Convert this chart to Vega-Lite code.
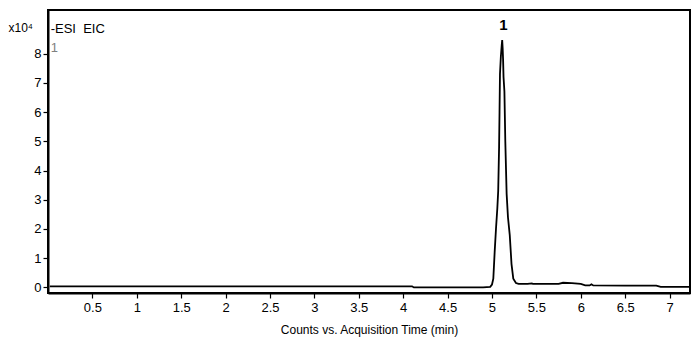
{
  "$schema": "https://vega.github.io/schema/vega-lite/v6.json",
  "width": 642,
  "height": 283,
  "autosize": {"type": "none"},
  "padding": {"left": 48, "top": 10, "right": 10, "bottom": 49},
  "background": "white",
  "config": {
    "view": {"stroke": "black", "strokeWidth": 2},
    "font": "Liberation Sans"
  },
  "datasets": {
    "eic": [
      {"t": 0.02, "c": 0.04}, {"t": 0.5, "c": 0.04}, {"t": 1.0, "c": 0.04}, {"t": 1.5, "c": 0.04},
      {"t": 2.0, "c": 0.04}, {"t": 2.5, "c": 0.04}, {"t": 3.0, "c": 0.04}, {"t": 3.5, "c": 0.04},
      {"t": 4.0, "c": 0.04}, {"t": 4.1, "c": 0.04}, {"t": 4.12, "c": 0.0}, {"t": 4.5, "c": 0.0},
      {"t": 4.9, "c": 0.0}, {"t": 4.98, "c": 0.02}, {"t": 5.0, "c": 0.1}, {"t": 5.015, "c": 0.3},
      {"t": 5.03, "c": 1.2}, {"t": 5.045, "c": 2.0}, {"t": 5.06, "c": 2.7}, {"t": 5.07, "c": 3.3},
      {"t": 5.08, "c": 4.8}, {"t": 5.085, "c": 6.0}, {"t": 5.09, "c": 7.3}, {"t": 5.1, "c": 7.9},
      {"t": 5.11, "c": 8.3}, {"t": 5.115, "c": 8.46}, {"t": 5.12, "c": 8.2}, {"t": 5.125, "c": 7.8},
      {"t": 5.13, "c": 7.2}, {"t": 5.14, "c": 6.7}, {"t": 5.15, "c": 5.0}, {"t": 5.165, "c": 3.2},
      {"t": 5.18, "c": 2.4}, {"t": 5.2, "c": 1.8}, {"t": 5.22, "c": 0.8}, {"t": 5.24, "c": 0.3},
      {"t": 5.27, "c": 0.15}, {"t": 5.3, "c": 0.12}, {"t": 5.4, "c": 0.12}, {"t": 5.45, "c": 0.14},
      {"t": 5.46, "c": 0.12}, {"t": 5.6, "c": 0.12}, {"t": 5.7, "c": 0.12}, {"t": 5.75, "c": 0.12},
      {"t": 5.8, "c": 0.16}, {"t": 5.9, "c": 0.15}, {"t": 6.0, "c": 0.12}, {"t": 6.05, "c": 0.07},
      {"t": 6.1, "c": 0.07}, {"t": 6.12, "c": 0.11}, {"t": 6.14, "c": 0.07}, {"t": 6.5, "c": 0.06},
      {"t": 6.85, "c": 0.06}, {"t": 6.9, "c": 0.02}, {"t": 7.22, "c": 0.02}
    ],
    "notes": [
      {"t": 5.13, "c": 8.98, "label": "1", "kind": "peak"},
      {"t": 0.03, "c": 8.85, "label": "-ESI\u00a0 EIC", "kind": "head"},
      {"t": 0.03, "c": 8.2, "label": "1", "kind": "sub"}
    ]
  },
  "encoding": {
    "x": {
      "field": "t", "type": "quantitative",
      "scale": {"domain": [0, 7.23], "nice": false, "zero": false},
      "axis": {
        "values": [0.5, 1, 1.5, 2, 2.5, 3, 3.5, 4, 4.5, 5, 5.5, 6, 6.5, 7],
        "format": "~g",
        "labelOverlap": false,
        "title": "Counts vs. Acquisition Time (min)",
        "titleFont": "Liberation Sans", "titleFontSize": 12, "titleFontWeight": "normal",
        "titleColor": "black", "titlePadding": 10,
        "labelFont": "Liberation Sans", "labelFontSize": 13, "labelColor": "black",
        "labelPadding": 3, "labelFlush": false,
        "domainColor": "black", "domainWidth": 2,
        "tickColor": "black", "tickSize": 5, "tickWidth": 1.2,
        "grid": false
      }
    },
    "y": {
      "field": "c", "type": "quantitative",
      "scale": {"domain": [-0.19, 9.49], "nice": false, "zero": false},
      "axis": {
        "values": [0, 1, 2, 3, 4, 5, 6, 7, 8],
        "format": "~g",
        "labelOverlap": false,
        "tickCount": 9,
        "title": "x10⁴",
        "titleAngle": 0, "titleAlign": "left", "titleBaseline": "middle",
        "titleX": -40, "titleY": 17,
        "titleFont": "Liberation Sans", "titleFontSize": 12, "titleFontWeight": "normal",
        "titleColor": "black",
        "labelFont": "Liberation Sans", "labelFontSize": 13, "labelColor": "black",
        "labelPadding": 2, "labelFlush": false,
        "domainColor": "black", "domainWidth": 2,
        "tickColor": "black", "tickSize": 5, "tickWidth": 1.2,
        "grid": false
      }
    }
  },
  "layer": [
    {
      "data": {"name": "eic"},
      "mark": {"type": "line", "color": "black", "strokeWidth": 1.8, "clip": true}
    },
    {
      "data": {"name": "notes"},
      "transform": [{"filter": "datum.kind === 'peak'"}],
      "mark": {"type": "text", "fontSize": 15, "fontWeight": "bold", "color": "black", "align": "center", "baseline": "middle"},
      "encoding": {"text": {"field": "label"}}
    },
    {
      "data": {"name": "notes"},
      "transform": [{"filter": "datum.kind === 'head'"}],
      "mark": {"type": "text", "fontSize": 13, "color": "black", "align": "left", "baseline": "middle"},
      "encoding": {"text": {"field": "label"}}
    },
    {
      "data": {"name": "notes"},
      "transform": [{"filter": "datum.kind === 'sub'"}],
      "mark": {"type": "text", "fontSize": 13, "color": "#808080", "align": "left", "baseline": "middle"},
      "encoding": {"text": {"field": "label"}}
    }
  ]
}
